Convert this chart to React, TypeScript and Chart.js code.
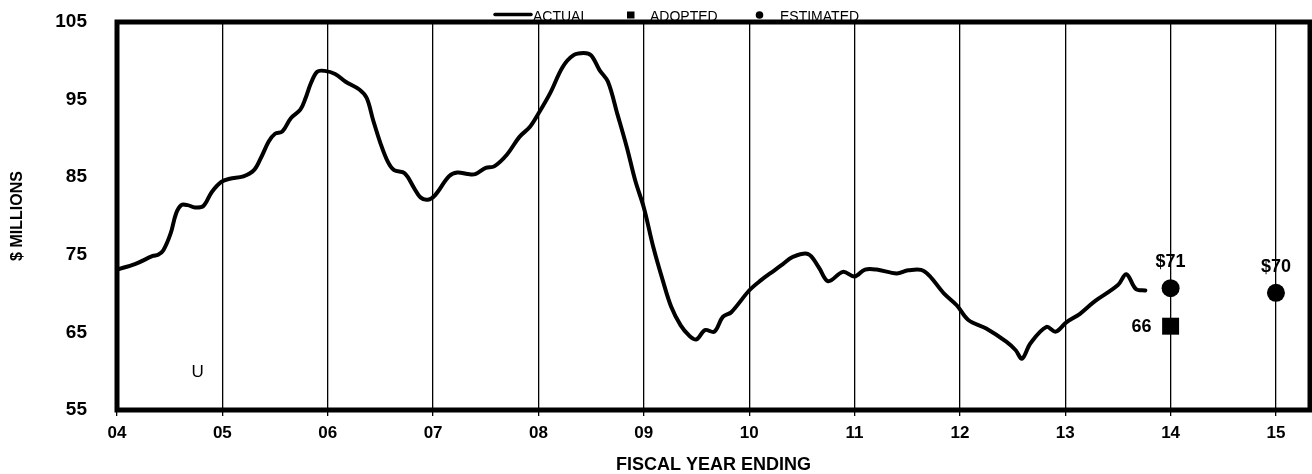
import React, { useEffect, useRef } from 'react';
import { Chart, registerables } from 'chart.js';

Chart.register(...registerables);

// ---- data ----
const actualYears = [
  4.0, 4.17, 4.34, 4.39, 4.44, 4.51, 4.56, 4.61, 4.67, 4.74, 4.82, 4.9, 4.99, 5.07, 5.2, 5.3, 5.37, 5.44, 5.5, 5.57,
  5.65, 5.74, 5.79, 5.84, 5.9, 5.97, 6.07, 6.17, 6.3, 6.37, 6.43, 6.5, 6.57, 6.63, 6.73, 6.82, 6.88, 6.95, 7.02, 7.15,
  7.23, 7.33, 7.4, 7.5, 7.58, 7.7, 7.82, 7.92, 8.0, 8.11, 8.23, 8.33, 8.43, 8.5, 8.58, 8.66, 8.75, 8.84, 8.92, 9.0,
  9.09, 9.18, 9.26, 9.35, 9.43, 9.5, 9.58, 9.67, 9.75, 9.83, 10.0, 10.11, 10.24, 10.32, 10.41, 10.56, 10.66, 10.75,
  10.89, 11.0, 11.1, 11.21, 11.4, 11.51, 11.66, 11.85, 11.97, 12.08, 12.25, 12.44, 12.53, 12.59, 12.67, 12.82, 12.91,
  13.01, 13.14, 13.27, 13.5, 13.58, 13.67, 13.76,
];
const actualValues = [
  73.1, 73.8, 74.85, 75.0, 75.6, 77.8, 80.3, 81.4, 81.4, 81.1, 81.3, 83.1, 84.4, 84.8, 85.1, 85.9, 87.6, 89.6, 90.6, 90.9,
  92.6, 93.7, 95.2, 97.1, 98.6, 98.7, 98.3, 97.3, 96.3, 95.2, 92.4, 89.4, 87.0, 85.9, 85.5, 83.6, 82.4, 82.1, 82.7, 85.1,
  85.6, 85.4, 85.4, 86.2, 86.4, 87.9, 90.2, 91.5, 93.2, 95.8, 99.2, 100.7, 101.0, 100.7, 98.8, 97.3, 93.1, 88.8, 84.5, 81.1,
  76.0, 71.7, 68.3, 65.9, 64.6, 64.1, 65.3, 65.1, 67.0, 67.6, 70.4, 71.7, 73.0, 73.8, 74.7, 75.1, 73.4, 71.6,
  72.8, 72.2, 73.1, 73.1, 72.6, 73.0, 72.9, 70.0, 68.5, 66.6, 65.5, 63.8, 62.7, 61.6, 63.6, 65.7, 65.1,
  66.3, 67.4, 68.9, 71.1, 72.5, 70.6, 70.4,
];
const adoptedYears = [14];
const adoptedValues = [65.8];
const adoptedLabels = ['66'];
const estimatedYears = [14, 15];
const estimatedValues = [70.7, 70.1];
const estimatedLabels = ['$71', '$70'];
const xTickLabels = ['04', '05', '06', '07', '08', '09', '10', '11', '12', '13', '14', '15'];
const xFirstYear = 4;
const xLast = 15.323;
const yMin = 55;
const yMax = 105;
const yStep = 10;
const legendLabels = ['ACTUAL', 'ADOPTED', 'ESTIMATED'];
const noteText = 'U';
const noteX = 4.766;
const noteY = 59.2;
const xTitle = 'FISCAL YEAR ENDING';
const yTitle = '$ MILLIONS';

const FONT = '"Liberation Sans", Arial, sans-serif';

const decorPlugin = {
  id: 'decor',
  afterDatasetsDraw(chart: any) {
    const ctx = chart.ctx;
    const xs = chart.scales.x;
    const ys = chart.scales.y;
    ctx.save();
    ctx.fillStyle = '#000';
    ctx.font = `bold 18px ${FONT}`;
    ctx.textAlign = 'center';
    ctx.textBaseline = 'alphabetic';
    estimatedYears.forEach((yr, i) => {
      const px = xs.getPixelForValue(yr);
      const py = ys.getPixelForValue(estimatedValues[i]);
      ctx.fillText(estimatedLabels[i], px, py - 21);
    });
    ctx.textAlign = 'right';
    adoptedYears.forEach((yr, i) => {
      const px = xs.getPixelForValue(yr);
      const py = ys.getPixelForValue(adoptedValues[i]);
      ctx.fillText(adoptedLabels[i], px - 19, py + 6);
    });
    ctx.font = `17px ${FONT}`;
    ctx.textAlign = 'center';
    ctx.fillText(noteText, xs.getPixelForValue(noteX), ys.getPixelForValue(noteY));
    ctx.restore();
  },
  afterDraw(chart: any) {
    const ctx = chart.ctx;
    const a = chart.chartArea;
    ctx.save();
    ctx.fillStyle = '#000';
    ctx.strokeStyle = '#000';
    ctx.font = `14px ${FONT}`;
    ctx.textAlign = 'left';
    ctx.textBaseline = 'alphabetic';
    ctx.lineWidth = 3.5;
    ctx.lineCap = 'round';
    ctx.beginPath();
    ctx.moveTo(495, 14.5);
    ctx.lineTo(531, 14.5);
    ctx.stroke();
    ctx.fillText(legendLabels[0], 533, 20.5);
    ctx.fillRect(627, 11.5, 7.5, 7);
    ctx.fillText(legendLabels[1], 650, 20.5);
    ctx.beginPath();
    ctx.arc(759.5, 15, 3.8, 0, Math.PI * 2);
    ctx.fill();
    ctx.fillText(legendLabels[2], 780, 20.5);
    ctx.lineWidth = 5;
    ctx.lineCap = 'butt';
    ctx.strokeRect(a.left, a.top, a.right - a.left, a.bottom - a.top);
    ctx.restore();
  },
};

export default function App() {
  const ref = useRef<HTMLCanvasElement | null>(null);
  useEffect(() => {
    document.body.style.margin = '0';
    const canvas = ref.current;
    if (!canvas) return;
    Chart.defaults.font.family = FONT;
    Chart.defaults.color = '#000';
    const chart = new Chart(canvas, {
      type: 'scatter',
      data: {
        datasets: [
          {
            label: legendLabels[0],
            data: actualYears.map((x, i) => ({ x, y: actualValues[i] })),
            showLine: true,
            borderColor: '#000',
            backgroundColor: '#000',
            borderWidth: 4,
            pointRadius: 0,
            tension: 0.35,
            borderCapStyle: 'round',
            borderJoinStyle: 'round',
          },
          {
            label: legendLabels[1],
            data: adoptedYears.map((x, i) => ({ x, y: adoptedValues[i] })),
            pointStyle: 'rect',
            pointRadius: 12,
            borderWidth: 0,
            backgroundColor: '#000',
            borderColor: '#000',
          },
          {
            label: legendLabels[2],
            data: estimatedYears.map((x, i) => ({ x, y: estimatedValues[i] })),
            pointStyle: 'circle',
            pointRadius: 9,
            borderWidth: 0,
            backgroundColor: '#000',
            borderColor: '#000',
          },
        ],
      },
      options: {
        responsive: false,
        animation: false,
        layout: { autoPadding: false, padding: { top: 22, right: 2, left: 0, bottom: 0 } },
        plugins: { legend: { display: false }, tooltip: { enabled: false }, title: { display: false } },
        scales: {
          x: {
            type: 'linear',
            min: xFirstYear,
            max: xLast,
            afterBuildTicks: (s: any) => {
              s.ticks = xTickLabels.map((_, i) => ({ value: xFirstYear + i }));
            },
            afterFit: (s: any) => {
              s.height = 64;
              s.paddingLeft = 0;
              s.paddingRight = 0;
            },
            ticks: {
              callback: (v: any) => xTickLabels[Math.round(v) - xFirstYear] ?? '',
              font: { size: 17, weight: 'bold' },
              color: '#000',
              padding: 7,
              maxRotation: 0,
              autoSkip: false,
            },
            grid: { color: '#000', lineWidth: 1.3, drawTicks: true, tickLength: 6, tickColor: '#000' },
            border: { display: false },
            title: {
              display: true,
              text: xTitle,
              font: { size: 18, weight: 'bold', lineHeight: 1 },
              color: '#000',
              padding: { top: 0, bottom: 0 },
            },
          },
          y: {
            type: 'linear',
            min: yMin,
            max: yMax,
            afterFit: (s: any) => {
              s.width = 117;
              s.paddingTop = 0;
              s.paddingBottom = 0;
            },
            ticks: {
              stepSize: yStep,
              font: { size: 19, weight: 'bold' },
              color: '#000',
              padding: 30,
            },
            grid: { display: false, drawTicks: false },
            border: { display: false },
            title: {
              display: true,
              text: yTitle,
              font: { size: 16, weight: 'bold', lineHeight: 1 },
              color: '#000',
              padding: { top: 10, bottom: 0 },
            },
          },
        },
      },
      plugins: [decorPlugin],
    } as any);
    return () => chart.destroy();
  }, []);
  return <canvas ref={ref} width={1312} height={474} style={{ display: 'block' }} />;
}
